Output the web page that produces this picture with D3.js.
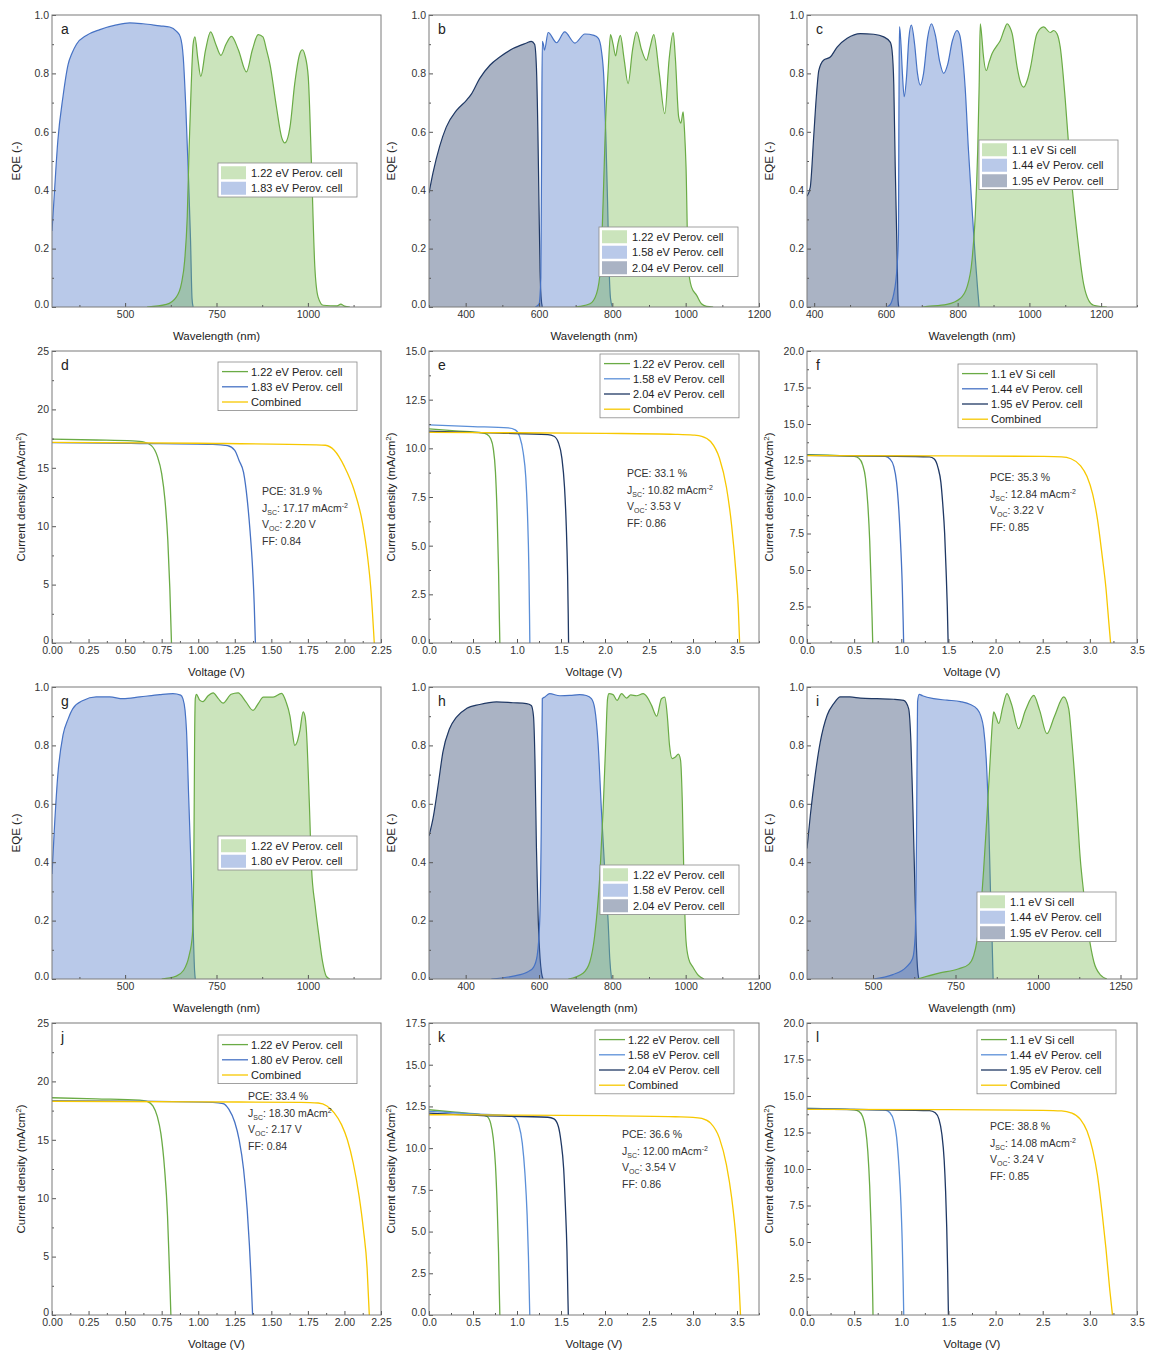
<!DOCTYPE html>
<html lang="en">
<head>
<meta charset="utf-8">
<title>Tandem cells: EQE and J-V</title>
<script src="https://d3js.org/d3.v7.min.js"></script>
<style>
body{margin:0;background:#fff;font-family:"Liberation Sans",Arial,sans-serif;}
</style>
</head>
<body>
<div id="chart"></div>
<script>
// ---------- EQE spectra: [wavelength (nm), EQE] ----------
var eqeA_122 = [[560,0],[613,0.009],[640,0.034],[654,0.08],[663,0.16],[670,0.31],[675,0.54],[681,0.765],[686,0.9],[691,0.925],[699,0.85],[707,0.79],[720,0.88],[734,0.942],[748,0.9],[762,0.862],[776,0.9],[791,0.927],[810,0.88],[832,0.805],[848,0.88],[864,0.933],[877,0.925],[887,0.88],[896,0.833],[914,0.685],[928,0.582],[937,0.562],[951,0.616],[964,0.765],[978,0.868],[985,0.881],[992,0.862],[1001,0.788],[1010,0.48],[1019,0.137],[1028,0.034],[1042,0.006],[1080,0.004],[1090,0.01],[1100,0.003],[1115,0]];
var eqeA_183 = [[300,0.26],[307,0.40],[316,0.57],[330,0.72],[344,0.83],[355,0.87],[367,0.90],[394,0.93],[431,0.95],[476,0.966],[513,0.973],[549,0.970],[595,0.963],[622,0.959],[640,0.945],[651,0.925],[659,0.856],[666,0.685],[673,0.457],[679,0.228],[683,0.03],[686,0]];

var eqeB_122 = [[700,0],[711,0.002],[739,0.011],[757,0.046],[768,0.137],[775,0.365],[782,0.65],[789,0.82],[795,0.933],[802,0.9],[809,0.86],[815,0.9],[822,0.93],[832,0.85],[843,0.765],[855,0.88],[866,0.942],[880,0.88],[893,0.845],[903,0.89],[913,0.933],[928,0.8],[943,0.662],[955,0.85],[966,0.94],[972,0.85],[981,0.65],[987,0.63],[993,0.668],[997,0.6],[1001,0.48],[1007,0.137],[1016,0.068],[1030,0.04],[1043,0.011],[1057,0.002],[1075,0]];
var eqeB_158 = [[590,0],[600,0.01],[605,0.1],[607,0.5],[609,0.91],[612,0.9],[615,0.88],[625,0.94],[648,0.905],[670,0.942],[698,0.904],[725,0.935],[750,0.93],[762,0.92],[770,0.88],[777,0.78],[782,0.6],[787,0.36],[791,0.14],[795,0.03],[800,0]];
var eqeB_204 = [[300,0.39],[311,0.46],[329,0.55],[347,0.616],[375,0.673],[402,0.708],[416,0.73],[438,0.782],[466,0.828],[493,0.856],[529,0.885],[566,0.904],[579,0.91],[588,0.9],[593,0.82],[597,0.6],[600,0.35],[603,0.12],[606,0.03],[609,0]];

var eqeC_110 = [[700,0],[715,0.002],[770,0.009],[807,0.029],[826,0.068],[840,0.16],[849,0.31],[856,0.54],[860,0.76],[863,0.97],[867,0.93],[871,0.87],[880,0.81],[888,0.84],[896,0.868],[910,0.896],[919,0.913],[930,0.95],[938,0.97],[945,0.96],[952,0.936],[966,0.82],[975,0.77],[984,0.753],[995,0.78],[1003,0.82],[1021,0.936],[1040,0.959],[1058,0.94],[1068,0.947],[1077,0.936],[1086,0.89],[1100,0.71],[1114,0.48],[1133,0.25],[1151,0.08],[1165,0.023],[1179,0.006],[1216,0]];
var eqeC_144 = [[600,0],[608,0.003],[622,0.046],[631,0.137],[635,0.25],[636,0.6],[637,0.85],[638,0.96],[642,0.9],[646,0.8],[651,0.72],[657,0.78],[664,0.92],[671,0.965],[680,0.9],[688,0.8],[696,0.76],[705,0.8],[716,0.92],[727,0.97],[738,0.93],[750,0.84],[761,0.80],[772,0.83],[785,0.91],[798,0.947],[806,0.93],[812,0.88],[821,0.75],[830,0.54],[840,0.34],[849,0.17],[856,0.057],[860,0]];
var eqeC_195 = [[380,0.38],[389,0.41],[399,0.59],[406,0.72],[413,0.81],[426,0.845],[445,0.856],[464,0.89],[492,0.92],[529,0.936],[566,0.934],[594,0.925],[612,0.907],[617,0.88],[622,0.76],[626,0.48],[631,0.19],[634,0.02],[636,0]];

var eqeG_122 = [[600,0],[640,0.01],[660,0.03],[675,0.08],[684,0.15],[688,0.4],[690,0.8],[692,0.96],[695,0.975],[704,0.955],[713,0.95],[727,0.97],[741,0.98],[755,0.96],[768,0.945],[790,0.975],[809,0.98],[830,0.95],[850,0.92],[865,0.945],[878,0.965],[905,0.965],[928,0.978],[940,0.95],[951,0.9],[958,0.84],[964,0.80],[970,0.81],[978,0.85],[987,0.915],[992,0.9],[996,0.85],[1004,0.6],[1010,0.38],[1020,0.25],[1030,0.15],[1040,0.06],[1050,0.01],[1060,0]];
var eqeG_180 = [[300,0.36],[307,0.527],[316,0.70],[330,0.835],[344,0.89],[357,0.926],[385,0.954],[421,0.966],[458,0.966],[494,0.96],[540,0.966],[595,0.974],[631,0.977],[652,0.972],[658,0.96],[664,0.92],[668,0.85],[674,0.62],[680,0.4],[686,0.18],[690,0.03],[692,0]];

var eqeH_122 = [[680,0],[720,0.02],[739,0.06],[752,0.15],[766,0.356],[775,0.584],[782,0.81],[787,0.96],[791,0.977],[802,0.974],[813,0.954],[825,0.977],[839,0.962],[850,0.973],[866,0.97],[884,0.977],[895,0.965],[907,0.937],[921,0.9],[934,0.96],[943,0.965],[950,0.9],[956,0.8],[963,0.755],[972,0.76],[980,0.77],[986,0.75],[991,0.6],[996,0.3],[1001,0.13],[1008,0.07],[1020,0.04],[1035,0.012],[1050,0]];
var eqeH_158 = [[470,0],[530,0.01],[570,0.025],[585,0.04],[595,0.08],[602,0.2],[606,0.5],[609,0.96],[616,0.966],[629,0.977],[657,0.97],[684,0.971],[711,0.974],[729,0.971],[743,0.96],[752,0.926],[761,0.81],[770,0.584],[780,0.356],[789,0.185],[793,0.07],[798,0]];
var eqeH_204 = [[300,0.49],[311,0.55],[325,0.664],[338,0.778],[356,0.857],[375,0.897],[402,0.926],[438,0.94],[484,0.949],[529,0.946],[566,0.943],[579,0.937],[585,0.9],[589,0.75],[593,0.45],[598,0.2],[603,0.07],[607,0.02],[611,0]];

var eqeI_110 = [[635,0],[700,0.02],[760,0.035],[790,0.05],[805,0.08],[815,0.13],[825,0.22],[835,0.37],[845,0.55],[855,0.75],[862,0.88],[866,0.915],[872,0.9],[881,0.875],[893,0.93],[906,0.977],[920,0.94],[941,0.857],[962,0.92],[987,0.971],[1005,0.92],[1027,0.84],[1050,0.9],[1078,0.966],[1093,0.926],[1103,0.81],[1118,0.584],[1128,0.413],[1138,0.30],[1154,0.15],[1169,0.06],[1189,0.014],[1209,0]];
var eqeI_144 = [[500,0],[560,0.015],[600,0.04],[620,0.07],[628,0.15],[632,0.5],[635,0.95],[640,0.975],[650,0.97],[684,0.96],[724,0.955],[765,0.95],[795,0.94],[815,0.925],[827,0.9],[835,0.86],[843,0.755],[851,0.527],[856,0.30],[861,0.128],[864,0]];
var eqeI_195 = [[300,0.447],[310,0.56],[325,0.70],[340,0.81],[361,0.903],[381,0.943],[401,0.966],[430,0.966],[462,0.962],[512,0.96],[563,0.958],[593,0.954],[608,0.926],[615,0.81],[621,0.584],[626,0.356],[631,0.128],[635,0.036],[639,0]];

// ---------- J-V curves: [voltage (V), current density (mA/cm2)] ----------
var jvD_122 = [[0,17.45],[0.3,17.38],[0.55,17.3],[0.63,17.2],[0.68,16.9],[0.72,16.0],[0.75,14.5],[0.773,12.2],[0.792,8.8],[0.806,4.6],[0.817,0]];
var jvD_183 = [[0,17.15],[0.6,17.08],[1.1,17.0],[1.2,16.9],[1.25,16.5],[1.28,15.6],[1.31,14.6],[1.335,12.3],[1.355,9.5],[1.37,6.8],[1.383,3.3],[1.391,0]];
var jvD_comb = [[0,17.17],[1.0,17.1],[1.8,16.97],[1.87,16.93],[1.93,16.5],[2.0,15.1],[2.066,13.1],[2.124,10.25],[2.158,7.4],[2.181,4.56],[2.204,0]];

var jvE_122 = [[0,11.0],[0.3,10.9],[0.6,10.8],[0.66,10.72],[0.7,10.5],[0.73,10.0],[0.755,8.8],[0.775,6.5],[0.79,3.8],[0.8,1.2],[0.805,0]];
var jvE_158 = [[0,11.2],[0.5,11.12],[0.9,11.05],[0.98,10.95],[1.03,10.6],[1.07,9.8],[1.1,8.5],[1.12,6.5],[1.135,3.8],[1.142,1.5],[1.146,0]];
var jvE_204 = [[0,10.88],[0.8,10.78],[1.35,10.7],[1.42,10.62],[1.47,10.3],[1.51,9.5],[1.54,8.0],[1.56,6.0],[1.575,3.5],[1.582,1.5],[1.586,0]];
var jvE_comb = [[0,10.82],[1.0,10.8],[2.0,10.77],[2.8,10.72],[3.0,10.68],[3.1,10.62],[3.2,10.35],[3.3,9.5],[3.38,8.0],[3.44,6.0],[3.49,3.5],[3.515,1.8],[3.53,0]];

var jvF_110 = [[0,12.9],[0.3,12.85],[0.5,12.78],[0.55,12.65],[0.59,12.2],[0.62,11.3],[0.645,9.5],[0.665,7.0],[0.68,4.0],[0.69,1.8],[0.697,0]];
var jvF_144 = [[0,12.85],[0.5,12.82],[0.83,12.78],[0.88,12.6],[0.92,12.1],[0.95,11.0],[0.975,9.0],[0.995,6.5],[1.01,4.0],[1.02,1.5],[1.025,0]];
var jvF_195 = [[0,12.85],[0.8,12.8],[1.3,12.75],[1.35,12.6],[1.39,12.0],[1.42,11.0],[1.44,9.5],[1.46,7.5],[1.475,5.0],[1.488,2.5],[1.497,0]];
var jvF_comb = [[0,12.84],[1.5,12.82],[2.5,12.78],[2.7,12.75],[2.8,12.62],[2.9,12.15],[2.97,11.4],[3.03,10.2],[3.08,8.5],[3.13,6.0],[3.17,3.8],[3.2,1.5],[3.22,0]];

var jvJ_122 = [[0,18.6],[0.3,18.5],[0.6,18.4],[0.65,18.3],[0.69,17.9],[0.72,17.0],[0.745,15.5],[0.77,12.5],[0.79,8.5],[0.8,5.0],[0.808,2.0],[0.813,0]];
var jvJ_180 = [[0,18.35],[0.6,18.3],[1.1,18.2],[1.17,18.1],[1.21,17.6],[1.25,16.5],[1.28,15.0],[1.31,12.5],[1.335,9.0],[1.35,6.0],[1.362,3.0],[1.372,0]];
var jvJ_comb = [[0,18.3],[1.0,18.25],[1.7,18.2],[1.82,18.15],[1.88,17.9],[1.93,17.3],[1.98,16.3],[2.02,15.0],[2.06,13.0],[2.1,10.2],[2.13,7.3],[2.155,4.0],[2.17,0]];

var jvK_122 = [[0,12.3],[0.3,12.15],[0.6,12.0],[0.66,11.9],[0.7,11.5],[0.73,10.6],[0.755,9.0],[0.775,6.5],[0.79,3.8],[0.8,1.2],[0.805,0]];
var jvK_158 = [[0,12.2],[0.5,12.05],[0.9,11.95],[0.97,11.85],[1.02,11.4],[1.06,10.3],[1.09,8.5],[1.115,6.0],[1.13,3.5],[1.14,1.2],[1.145,0]];
var jvK_204 = [[0,12.1],[0.6,11.95],[1.35,11.85],[1.42,11.75],[1.47,11.3],[1.5,10.4],[1.53,8.8],[1.55,6.5],[1.568,3.8],[1.578,1.2],[1.583,0]];
var jvK_comb = [[0,12.0],[1.0,11.98],[2.0,11.95],[2.8,11.88],[3.0,11.85],[3.1,11.78],[3.2,11.5],[3.3,10.6],[3.38,9.0],[3.44,7.0],[3.49,4.5],[3.52,2.2],[3.54,0]];

var jvL_110 = [[0,14.15],[0.3,14.12],[0.5,14.05],[0.55,13.95],[0.59,13.6],[0.62,12.8],[0.645,11.2],[0.665,8.8],[0.68,6.0],[0.69,3.5],[0.697,1.2],[0.70,0]];
var jvL_144 = [[0,14.15],[0.5,14.1],[0.83,14.03],[0.88,13.85],[0.92,13.3],[0.95,12.2],[0.975,10.2],[0.995,7.8],[1.01,5.0],[1.02,2.2],[1.026,0]];
var jvL_195 = [[0,14.1],[0.8,14.05],[1.3,14.0],[1.36,13.85],[1.4,13.4],[1.43,12.4],[1.455,10.6],[1.47,8.5],[1.482,6.0],[1.492,3.0],[1.5,0]];
var jvL_comb = [[0,14.08],[1.5,14.06],[2.5,14.02],[2.7,13.98],[2.8,13.85],[2.9,13.4],[2.97,12.6],[3.03,11.3],[3.08,9.6],[3.13,7.0],[3.17,4.6],[3.21,1.8],[3.24,0]];

// ---------- cell names and summary numbers ----------
var cell122 = "1.22 eV Perov. cell", cell183 = "1.83 eV Perov. cell", cell180 = "1.80 eV Perov. cell";
var cell158 = "1.58 eV Perov. cell", cell204 = "2.04 eV Perov. cell";
var cellSi = "1.1 eV Si cell", cell144 = "1.44 eV Perov. cell", cell195 = "1.95 eV Perov. cell";
var combined = "Combined";
// PCE, Jsc, Voc, FF, exponent on the Jsc unit
var statsD = ["31.9 %", "17.17", "2.20 V", "0.84", "-2"];
var statsE = ["33.1 %", "10.82", "3.53 V", "0.86", "-2"];
var statsF = ["35.3 %", "12.84", "3.22 V", "0.85", "-2"];
var statsJ = ["33.4 %", "18.30", "2.17 V", "0.84", "2"];
var statsK = ["36.6 %", "12.00", "3.54 V", "0.86", "-2"];
var statsL = ["38.8 %", "14.08", "3.24 V", "0.85", "-2"];

// ---------- tick values ----------
var eqeTicks = [0, 0.2, 0.4, 0.6, 0.8, 1.0];
var wlTicks250 = [500, 750, 1000];
var wlTicks200 = [400, 600, 800, 1000, 1200];
var wlTicksI = [500, 750, 1000, 1250];
var vTicks025 = [0, 0.25, 0.5, 0.75, 1.0, 1.25, 1.5, 1.75, 2.0, 2.25];
var vTicks05 = [0, 0.5, 1.0, 1.5, 2.0, 2.5, 3.0, 3.5];
var jTicks25 = [0, 5, 10, 15, 20, 25];
var jTicks15 = [0, 2.5, 5, 7.5, 10, 12.5, 15];
var jTicks175 = [0, 2.5, 5, 7.5, 10, 12.5, 15, 17.5];
var jTicks20 = [0, 2.5, 5, 7.5, 10, 12.5, 15, 17.5, 20];

// ---------- styling / layout ----------
var W = 1149, H = 1353;
var colX = [52, 429, 807], colW = [329, 330, 330];
var rowY = [15, 351, 687, 1023], plotH = 292;
var stroke = {green:"#6aab45", blue:"#4672c4", navy:"#1f3864", yellow:"#f7c800", lblue:"#5b8fd8"};
var fill = {green:"rgba(112,180,70,0.36)", blue:"rgba(70,114,196,0.38)", navy:"rgba(32,56,100,0.38)"};

var panels = [
  {id:"a", type:"eqe", col:0, row:0, xd:[300,1200], xt:wlTicks250, xm:125,
   series:[[cell122,"green",eqeA_122],[cell183,"blue",eqeA_183]], leg:[166,148]},
  {id:"b", type:"eqe", col:1, row:0, xd:[300,1200], xt:wlTicks200, xm:100,
   series:[[cell122,"green",eqeB_122],[cell158,"blue",eqeB_158],[cell204,"navy",eqeB_204]], leg:[170,212]},
  {id:"c", type:"eqe", col:2, row:0, xd:[380,1300], xt:wlTicks200, xm:100,
   series:[[cellSi,"green",eqeC_110],[cell144,"blue",eqeC_144],[cell195,"navy",eqeC_195]], leg:[172,125]},
  {id:"d", type:"jv", col:0, row:1, xd:[0,2.25], xt:vTicks025, xm:0.125, xf:".2f", yd:[0,25], yt:jTicks25, ym:2.5, yf:"d",
   series:[[cell122,"green",jvD_122],[cell183,"blue",jvD_183],[combined,"yellow",jvD_comb]], leg:[166,11], stats:statsD, st:[210,144]},
  {id:"e", type:"jv", col:1, row:1, xd:[0,3.75], xt:vTicks05, xm:0.25, xf:".1f", yd:[0,15], yt:jTicks15, ym:1.25, yf:".1f",
   series:[[cell122,"green",jvE_122],[cell158,"lblue",jvE_158],[cell204,"navy",jvE_204],[combined,"yellow",jvE_comb]], leg:[171,3], stats:statsE, st:[198,126]},
  {id:"f", type:"jv", col:2, row:1, xd:[0,3.5], xt:vTicks05, xm:0.25, xf:".1f", yd:[0,20], yt:jTicks20, ym:1.25, yf:".1f",
   series:[[cellSi,"green",jvF_110],[cell144,"blue",jvF_144],[cell195,"navy",jvF_195],[combined,"yellow",jvF_comb]], leg:[151,13], stats:statsF, st:[183,130]},
  {id:"g", type:"eqe", col:0, row:2, xd:[300,1200], xt:wlTicks250, xm:125,
   series:[[cell122,"green",eqeG_122],[cell180,"blue",eqeG_180]], leg:[166,149]},
  {id:"h", type:"eqe", col:1, row:2, xd:[300,1200], xt:wlTicks200, xm:100,
   series:[[cell122,"green",eqeH_122],[cell158,"blue",eqeH_158],[cell204,"navy",eqeH_204]], leg:[171,178]},
  {id:"i", type:"eqe", col:2, row:2, xd:[300,1300], xt:wlTicksI, xm:125,
   series:[[cellSi,"green",eqeI_110],[cell144,"blue",eqeI_144],[cell195,"navy",eqeI_195]], leg:[170,205]},
  {id:"j", type:"jv", col:0, row:3, xd:[0,2.25], xt:vTicks025, xm:0.125, xf:".2f", yd:[0,25], yt:jTicks25, ym:2.5, yf:"d",
   series:[[cell122,"green",jvJ_122],[cell180,"blue",jvJ_180],[combined,"yellow",jvJ_comb]], leg:[166,12], stats:statsJ, st:[196,77]},
  {id:"k", type:"jv", col:1, row:3, xd:[0,3.75], xt:vTicks05, xm:0.25, xf:".1f", yd:[0,17.5], yt:jTicks175, ym:1.25, yf:".1f",
   series:[[cell122,"green",jvK_122],[cell158,"lblue",jvK_158],[cell204,"navy",jvK_204],[combined,"yellow",jvK_comb]], leg:[166,7], stats:statsK, st:[193,115]},
  {id:"l", type:"jv", col:2, row:3, xd:[0,3.5], xt:vTicks05, xm:0.25, xf:".1f", yd:[0,20], yt:jTicks20, ym:1.25, yf:".1f",
   series:[[cellSi,"green",jvL_110],[cell144,"lblue",jvL_144],[cell195,"navy",jvL_195],[combined,"yellow",jvL_comb]], leg:[170,7], stats:statsL, st:[183,107]}
];

var svg = d3.select("#chart").append("svg").attr("width", W).attr("height", H)
  .style("font-family", "'Liberation Sans', Arial, sans-serif");

function minorValues(domain, step, majors) {
  var out = [];
  var start = Math.ceil(domain[0] / step - 1e-9) * step;
  for (var v = start; v <= domain[1] + 1e-9; v += step) {
    var isMajor = majors.some(function(m){ return Math.abs(m - v) < 1e-6; });
    if (!isMajor) out.push(v);
  }
  return out;
}

function styleAxis(sel) {
  sel.select(".domain").remove();
  sel.selectAll(".tick line").attr("stroke", "#555");
  sel.selectAll(".tick text").attr("fill", "#333").style("font-size", "10.5px");
}

function drawPanel(p) {
  var x0 = colX[p.col], y0 = rowY[p.row], w = colW[p.col], h = plotH;
  var g = svg.append("g").attr("transform", "translate(" + x0 + "," + y0 + ")");
  var isEqe = p.type == "eqe";
  var yd = isEqe ? [0, 1] : p.yd;
  var yt = isEqe ? eqeTicks : p.yt;
  var ym = isEqe ? 0.1 : p.ym;
  var yf = isEqe ? ".1f" : p.yf;

  var x = d3.scaleLinear().domain(p.xd).range([0, w]);
  var y = d3.scaleLinear().domain(yd).range([h, 0]);

  g.append("clipPath").attr("id", "clip-" + p.id)
    .append("rect").attr("width", w).attr("height", h);
  var plot = g.append("g").attr("clip-path", "url(#clip-" + p.id + ")");

  if (isEqe) {
    var area = d3.area().x(function(d){ return x(d[0]); }).y0(y(0)).y1(function(d){ return y(d[1]); })
      .curve(d3.curveMonotoneX);
    var line = d3.line().x(function(d){ return x(d[0]); }).y(function(d){ return y(d[1]); })
      .curve(d3.curveMonotoneX);
    // draw from the shortest wavelength cell to the longest
    p.series.slice().reverse().forEach(function(s){
      plot.append("path").datum(s[2]).attr("d", area).attr("fill", fill[s[1]]);
      plot.append("path").datum(s[2]).attr("d", line).attr("fill", "none")
        .attr("stroke", stroke[s[1]]).attr("stroke-width", 1.2);
    });
  } else {
    var jvLine = d3.line().x(function(d){ return x(d[0]); }).y(function(d){ return y(d[1]); })
      .curve(d3.curveMonotoneX);
    p.series.forEach(function(s){
      plot.append("path").datum(s[2]).attr("d", jvLine).attr("fill", "none")
        .attr("stroke", stroke[s[1]]).attr("stroke-width", 1.3);
    });
  }

  // axes with inward ticks
  var fx = isEqe ? d3.format("d") : d3.format(p.xf);
  var xAxis = g.append("g").attr("transform", "translate(0," + h + ")")
    .call(d3.axisBottom(x).tickValues(p.xt).tickFormat(fx).tickSizeInner(-4).tickSizeOuter(0).tickPadding(4));
  styleAxis(xAxis);
  var xMinor = g.append("g").attr("transform", "translate(0," + h + ")")
    .call(d3.axisBottom(x).tickValues(minorValues(p.xd, p.xm, p.xt)).tickFormat("").tickSizeInner(-2).tickSizeOuter(0));
  styleAxis(xMinor);
  var yAxis = g.append("g")
    .call(d3.axisLeft(y).tickValues(yt).tickFormat(d3.format(yf)).tickSizeInner(-4).tickSizeOuter(0).tickPadding(3));
  styleAxis(yAxis);
  // lift the lowest y label a little so it clears the first x label
  yAxis.selectAll(".tick text").filter(function(d){ return d == yd[0]; }).attr("dy", "0.05em");
  var yMinor = g.append("g")
    .call(d3.axisLeft(y).tickValues(minorValues(yd, ym, yt)).tickFormat("").tickSizeInner(-2).tickSizeOuter(0));
  styleAxis(yMinor);

  g.append("rect").attr("width", w).attr("height", h)
    .attr("fill", "none").attr("stroke", "#7a7a7a").attr("stroke-width", 1);

  // axis titles
  g.append("text").attr("x", w / 2).attr("y", h + 33).attr("text-anchor", "middle")
    .attr("fill", "#222").style("font-size", "11.5px")
    .text(isEqe ? "Wavelength (nm)" : "Voltage (V)");
  var yOff = p.col == 0 ? (isEqe ? 32 : 27) : 34;
  var yl = g.append("text").attr("transform", "translate(" + (-yOff) + "," + (h / 2) + ") rotate(-90)")
    .attr("text-anchor", "middle").attr("fill", "#222").style("font-size", "11.5px");
  if (isEqe) {
    yl.text("EQE (-)");
  } else {
    yl.append("tspan").text("Current density (mA/cm");
    yl.append("tspan").attr("dy", -4).style("font-size", "8px").text("2");
    yl.append("tspan").attr("dy", 4).text(")");
  }

  // panel letter
  g.append("text").attr("x", 9).attr("y", 19).attr("fill", "#222").style("font-size", "14px").text(p.id);

  // legend
  var rowH = isEqe ? 15.5 : 15.2;
  var lg = g.append("g").attr("transform", "translate(" + p.leg[0] + "," + p.leg[1] + ")");
  lg.append("rect").attr("width", 139).attr("height", p.series.length * rowH + 3)
    .attr("fill", "#fff").attr("stroke", "#8a8a8a").attr("stroke-width", 0.8);
  p.series.forEach(function(s, i){
    var cy = 2 + rowH * i + rowH / 2;
    if (isEqe) {
      lg.append("rect").attr("x", 3).attr("y", cy - 6.5).attr("width", 25).attr("height", 13)
        .attr("fill", fill[s[1]]);
    } else {
      lg.append("line").attr("x1", 4).attr("x2", 30).attr("y1", cy).attr("y2", cy)
        .attr("stroke", stroke[s[1]]).attr("stroke-width", 1.3);
    }
    lg.append("text").attr("x", 33).attr("y", cy + 4).attr("fill", "#222")
      .style("font-size", "11px").text(s[0]);
  });

  // summary of the combined device
  if (p.stats) {
    var st = g.append("g").attr("transform", "translate(" + p.st[0] + "," + p.st[1] + ")")
      .attr("fill", "#333").style("font-size", "10.5px");
    var lh = 16.5;
    st.append("text").attr("y", 0).text("PCE: " + p.stats[0]);
    var t2 = st.append("text").attr("y", lh);
    t2.append("tspan").text("J");
    t2.append("tspan").attr("dy", 3).style("font-size", "7px").text("SC");
    t2.append("tspan").attr("dy", -3).text(": " + p.stats[1] + " mAcm");
    t2.append("tspan").attr("dy", -4).style("font-size", "7px").text(p.stats[4]);
    var t3 = st.append("text").attr("y", lh * 2);
    t3.append("tspan").text("V");
    t3.append("tspan").attr("dy", 3).style("font-size", "7px").text("OC");
    t3.append("tspan").attr("dy", -3).text(": " + p.stats[2]);
    st.append("text").attr("y", lh * 3).text("FF: " + p.stats[3]);
  }
}

panels.forEach(drawPanel);
</script>
</body>
</html>
